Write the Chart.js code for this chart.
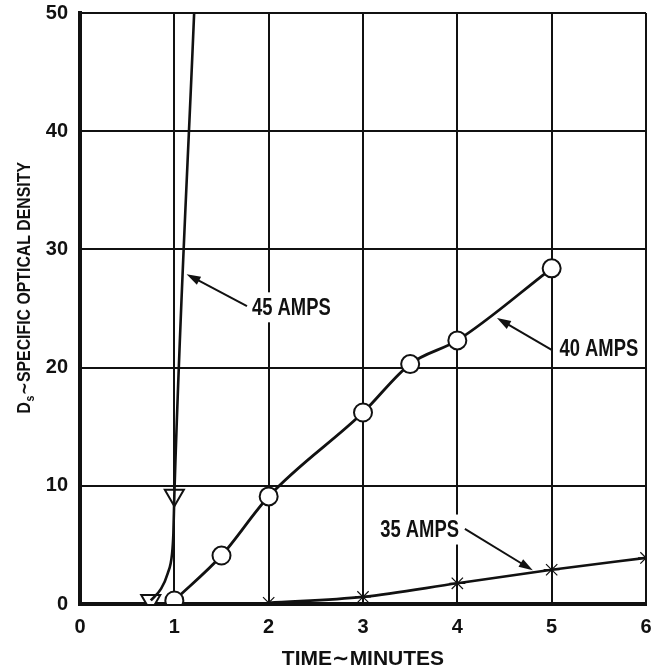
<!DOCTYPE html>
<html>
<head>
<meta charset="utf-8">
<script src="https://cdn.jsdelivr.net/npm/chart.js@4/dist/chart.umd.min.js"></script>
<style>
  html, body { margin: 0; padding: 0; background: #ffffff; }
  #wrap { width: 659px; height: 672px; position: relative; }
</style>
</head>
<body>
<div id="wrap"><canvas id="c" width="659" height="672"></canvas></div>
<script>
// ---- data ----
const xTicks = [0, 1, 2, 3, 4, 5, 6];
const yTicks = [0, 10, 20, 30, 40, 50];

// 40 AMPS (open circles)
const amps40X = [1, 1.5, 2, 3, 3.5, 4, 5];
const amps40Y = [0.3, 4.1, 9.1, 16.2, 20.3, 22.3, 28.4];

// 35 AMPS (asterisks)
const amps35X = [2, 3, 4, 5, 6];
const amps35Y = [0.1, 0.6, 1.75, 2.9, 3.9];

// 45 AMPS (open triangles) - measured points
const amps45X = [0.75, 1];
const amps45Y = [0.3, 9.2];
// 45 AMPS curve shape
const amps45CurveX = [0.75, 0.86, 0.93, 0.975, 0.99, 1, 1.21];
const amps45CurveY = [0.3, 1.3, 2.6, 4.2, 6.0, 9.2, 50];

// annotations: label, text centre (x,y), arrow tail (x,y), arrow head (x,y)
const noteLabels = ['45 AMPS', '40 AMPS', '35 AMPS'];
const noteTextX = [2.24, 5.5, 3.6];
const noteTextY = [25.1, 21.6, 6.3];
const noteTailX = [1.77, 5.0, 4.08];
const noteTailY = [25.2, 21.5, 6.35];
const noteHeadX = [1.13, 4.42, 4.8];
const noteHeadY = [27.9, 24.2, 2.85];

// axis titles
const xTitle = 'TIME∼MINUTES';
const yTitleMain = 'D';
const yTitleSub = 's';
const yTitleRest = '∼SPECIFIC OPTICAL DENSITY';

const SANS = "'Liberation Sans', Arial, 'DejaVu Sans', sans-serif";

function pts(xs, ys) { return xs.map((x, i) => ({ x: x, y: ys[i] })); }

// y-axis title with a real subscript, drawn as canvas text
const yTitlePlugin = {
  id: 'ytitle',
  afterDraw(chart) {
    const ctx = chart.ctx;
    const area = chart.chartArea;
    const cx = 25;
    const startY = (area.top + area.bottom) / 2 + 105;
    ctx.save();
    ctx.translate(cx, startY);
    ctx.rotate(-Math.PI / 2);
    ctx.scale(0.88, 1);
    ctx.fillStyle = '#111111';
    ctx.textAlign = 'left';
    ctx.textBaseline = 'middle';
    ctx.font = 'bold 18px ' + SANS;
    let x = 0;
    ctx.fillText(yTitleMain, x, 0);
    x += ctx.measureText(yTitleMain).width + 0.5;
    ctx.font = 'bold 12px ' + SANS;
    ctx.fillText(yTitleSub, x, 6);
    x += ctx.measureText(yTitleSub).width + 0.5;
    ctx.font = 'bold 18px ' + SANS;
    ctx.fillText(yTitleRest, x, 0);
    ctx.restore();
  }
};

const annotPlugin = {
  id: 'annot',
  afterDatasetsDraw(chart) {
    const ctx = chart.ctx;
    const xs = chart.scales.x, ys = chart.scales.y;
    const sx = 0.8;
    ctx.save();
    ctx.font = "bold 23px " + SANS;
    ctx.textAlign = 'center';
    ctx.textBaseline = 'middle';
    noteLabels.forEach((lab, i) => {
      const tx = xs.getPixelForValue(noteTextX[i]);
      const ty = ys.getPixelForValue(noteTextY[i]);
      const w = ctx.measureText(lab).width * sx;
      ctx.fillStyle = '#ffffff';
      ctx.fillRect(tx - w / 2 - 6, ty - 15, w + 12, 30);
      ctx.save();
      ctx.translate(tx, ty + 1);
      ctx.scale(sx, 1);
      ctx.fillStyle = '#111111';
      ctx.fillText(lab, 0, 0);
      ctx.restore();
      // arrow
      const ax = xs.getPixelForValue(noteTailX[i]);
      const ay = ys.getPixelForValue(noteTailY[i]);
      const hx = xs.getPixelForValue(noteHeadX[i]);
      const hy = ys.getPixelForValue(noteHeadY[i]);
      const ang = Math.atan2(hy - ay, hx - ax);
      const L = 14, W = 4.5;
      ctx.strokeStyle = '#111111';
      ctx.lineWidth = 2;
      ctx.beginPath();
      ctx.moveTo(ax, ay);
      ctx.lineTo(hx - Math.cos(ang) * L * 0.8, hy - Math.sin(ang) * L * 0.8);
      ctx.stroke();
      ctx.beginPath();
      ctx.moveTo(hx, hy);
      ctx.lineTo(hx - Math.cos(ang) * L + Math.sin(ang) * W, hy - Math.sin(ang) * L - Math.cos(ang) * W);
      ctx.lineTo(hx - Math.cos(ang) * L - Math.sin(ang) * W, hy - Math.sin(ang) * L + Math.cos(ang) * W);
      ctx.closePath();
      ctx.fillStyle = '#111111';
      ctx.fill();
    });
    ctx.restore();
  }
};

const ctx = document.getElementById('c').getContext('2d');
new Chart(ctx, {
  type: 'scatter',
  data: {
    datasets: [
      {
        label: '45 AMPS curve',
        data: pts(amps45CurveX, amps45CurveY),
        showLine: true,
        borderColor: '#111111',
        borderWidth: 2.6,
        pointRadius: 0,
        cubicInterpolationMode: 'monotone',
        clip: 2
      },
      {
        label: '45 AMPS',
        data: pts(amps45X, amps45Y),
        showLine: false,
        pointStyle: 'triangle',
        rotation: 180,
        pointRadius: 11,
        pointBorderWidth: 2,
        pointBackgroundColor: '#ffffff',
        pointBorderColor: '#111111'
      },
      {
        label: '40 AMPS',
        data: pts(amps40X, amps40Y),
        showLine: true,
        borderColor: '#111111',
        borderWidth: 2.8,
        cubicInterpolationMode: 'monotone',
        pointStyle: 'circle',
        pointRadius: 9,
        pointBorderWidth: 2,
        pointBackgroundColor: '#ffffff',
        pointBorderColor: '#111111'
      },
      {
        label: '35 AMPS',
        data: pts(amps35X, amps35Y),
        showLine: true,
        borderColor: '#111111',
        borderWidth: 2.6,
        cubicInterpolationMode: 'monotone',
        pointStyle: 'star',
        pointRadius: 8,
        pointBorderWidth: 1.2,
        pointBorderColor: '#111111',
        pointBackgroundColor: '#111111'
      }
    ]
  },
  options: {
    responsive: false,
    animation: false,
    events: [],
    layout: { padding: { top: 12, right: 9, left: 0, bottom: 0 } },
    plugins: {
      legend: { display: false },
      tooltip: { enabled: false }
    },
    scales: {
      x: {
        type: 'linear',
        min: 0, max: 6,
        afterFit(s) { s.height = 68; s.paddingLeft = 0; s.paddingRight = 0; },
        afterBuildTicks(s) { s.ticks = xTicks.map(v => ({ value: v })); },
        grid: { color: '#111111', lineWidth: 2, drawTicks: false },
        border: { color: '#111111', width: 4 },
        ticks: {
          padding: 11,
          color: '#111111',
          font: { family: SANS, size: 20, weight: 'bold' }
        },
        title: {
          display: true,
          text: xTitle,
          color: '#111111',
          font: { family: SANS, size: 21, weight: 'bold' },
          padding: { top: 0, bottom: 0 }
        }
      },
      y: {
        type: 'linear',
        min: 0, max: 50,
        afterFit(s) { s.width = 80; s.paddingTop = 0; s.paddingBottom = 0; },
        afterBuildTicks(s) { s.ticks = yTicks.map(v => ({ value: v })); },
        grid: { color: '#111111', lineWidth: 2, drawTicks: false },
        border: { color: '#111111', width: 4 },
        ticks: {
          padding: 12,
          color: '#111111',
          font: { family: SANS, size: 20, weight: 'bold' }
        },
        title: { display: false }
      }
    }
  },
  plugins: [annotPlugin, yTitlePlugin]
});
</script>
</body>
</html>
